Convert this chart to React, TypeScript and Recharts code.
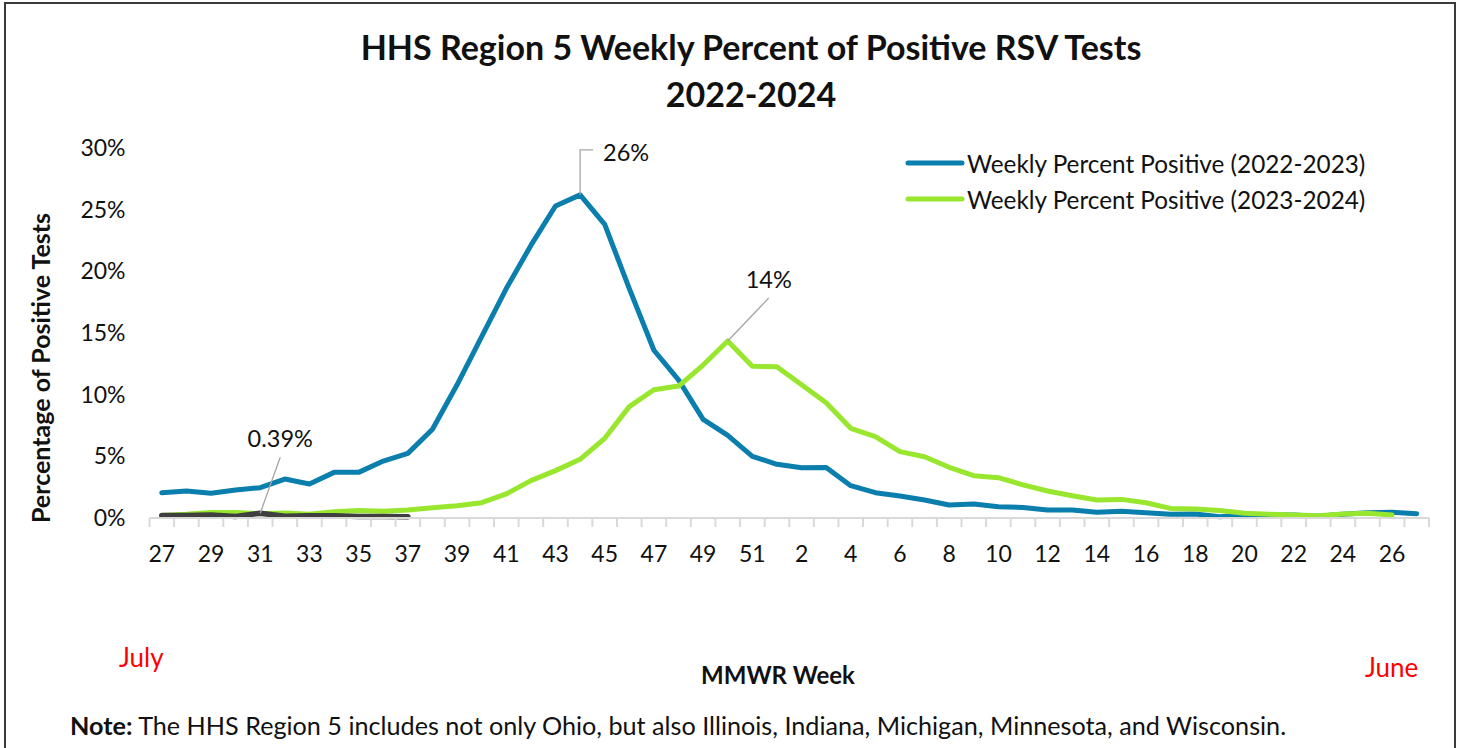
import { LineChart, Line, XAxis, YAxis, Legend } from 'recharts';

// MMWR weeks, July through June
const WEEKS = [
  27, 28, 29, 30, 31, 32, 33, 34, 35, 36, 37, 38, 39, 40, 41, 42, 43, 44, 45, 46, 47, 48, 49, 50, 51,
  1, 2, 3, 4, 5, 6, 7, 8, 9, 10, 11, 12, 13, 14, 15, 16, 17, 18, 19, 20, 21, 22, 23, 24, 25, 26, 27,
];

const SEASON_2022_2023 = [
  2.05, 2.19, 2.0, 2.27, 2.46, 3.16, 2.76, 3.7, 3.7, 4.62, 5.24, 7.2, 10.8, 14.7, 18.6, 22.1, 25.3,
  26.2, 23.8, 18.6, 13.6, 11.2, 8.0, 6.7, 5.0, 4.35, 4.08, 4.1, 2.62, 2.05, 1.78, 1.46, 1.05, 1.14,
  0.92, 0.86, 0.65, 0.65, 0.46, 0.54, 0.43, 0.3, 0.32, 0.11, 0.24, 0.24, 0.24, 0.15, 0.3, 0.43, 0.46,
  0.35,
];

const SEASON_2023_2024 = [
  0.2, 0.3, 0.45, 0.45, 0.35, 0.4, 0.3, 0.5, 0.6, 0.55, 0.65, 0.84, 1.0, 1.24, 1.95, 3.03, 3.84,
  4.76, 6.46, 9.03, 10.4, 10.7, 12.4, 14.35, 12.3, 12.27, 10.8, 9.35, 7.27, 6.6, 5.38, 4.97, 4.11,
  3.43, 3.27, 2.68, 2.19, 1.81, 1.46, 1.51, 1.24, 0.78, 0.73, 0.6, 0.38, 0.3, 0.24, 0.19, 0.32, 0.38,
  0.24,
];

const SEASON_2024_2025 = [0.2, 0.2, 0.25, 0.12, 0.39, 0.15, 0.18, 0.18, 0.12, 0.12, 0.1];

const Y_TICKS = [0, 5, 10, 15, 20, 25, 30];

const BLUE = '#0A7EAC';
const GREEN = '#99E62E';
const DARK = '#3F3F3F';
const LEADER = '#A6A6A6';
const FONT = 'Lato, "Open Sans", sans-serif';

// boundaries get a tick mark, every other week gets a label
const X_TICKS: number[] = [];
for (let i = 0; i <= WEEKS.length; i++) {
  X_TICKS.push(i - 0.5);
  if (i < WEEKS.length && i % 2 === 0) X_TICKS.push(i);
}

function WeekTick({ x, y, payload }: any) {
  const v = payload.value as number;
  if (Math.abs(v % 1) === 0.5) {
    return <line x1={x} x2={x} y1={y} y2={y + 9} stroke="#D9D9D9" strokeWidth={2} />;
  }
  return (
    <text x={x} y={y + 35} textAnchor="middle" dominantBaseline="central" fill="#111" fontSize={23} fontFamily={FONT}>
      {WEEKS[v]}
    </text>
  );
}

function peakLabel(target: number, dx: number, dy: number, elbow: boolean, digits: number) {
  return (props: any) => {
    const { x, y, index, value } = props;
    if (index !== target || x == null || y == null) return null;
    const txt = `${Number(value).toFixed(digits)}%`;
    if (elbow) {
      return (
        <g>
          <polyline points={`${x},${y} ${x},${y + dy} ${x + 13},${y + dy}`} fill="none" stroke={LEADER} strokeWidth={1.3} />
          <text x={x + 23} y={y + dy + 2} dominantBaseline="central" fontSize={23.5} fontFamily={FONT} fill="#111">
            {txt}
          </text>
        </g>
      );
    }
    return (
      <g>
        <line x1={x} y1={y} x2={x + dx} y2={y + dy} stroke={LEADER} strokeWidth={1.3} />
        <text x={x + dx} y={y + dy - 19} textAnchor="middle" dominantBaseline="central" fontSize={23.5} fontFamily={FONT} fill="#111">
          {txt}
        </text>
      </g>
    );
  };
}

function LegendBox({ payload }: any) {
  const items = (payload || []).filter((p: any) => p.dataKey !== 's2425');
  return (
    <div style={{ fontFamily: FONT }}>
      {items.map((p: any) => (
        <div key={p.dataKey} style={{ display: 'flex', alignItems: 'center', height: 36 }}>
          <svg width={60} height={10}>
            <line x1={3} x2={57} y1={5} y2={5} stroke={p.color} strokeWidth={5} strokeLinecap="round" />
          </svg>
          <span style={{ marginLeft: 2, fontSize: 24.3, color: '#111', whiteSpace: 'nowrap' }}>{p.value}</span>
        </div>
      ))}
    </div>
  );
}

export default function App() {
  const data = WEEKS.map((w, i) => ({
    idx: i,
    week: w,
    s2223: SEASON_2022_2023[i] ?? null,
    s2324: SEASON_2023_2024[i] ?? null,
    s2425: SEASON_2024_2025[i] ?? null,
  }));

  return (
    <div style={{ position: 'absolute', left: 0, top: 0, width: 1463, height: 748, overflow: 'hidden', background: '#fff', fontFamily: FONT, color: '#111' }}>
      <div style={{ position: 'absolute', left: 4, top: 2, width: 1448, height: 800, border: '2px solid #3a3a3a' }} />

      <div style={{ position: 'absolute', left: 0, width: 1502, top: 23, textAlign: 'center', fontWeight: 700, fontSize: 34, lineHeight: '47px' }}>
        HHS Region 5 Weekly Percent of Positive RSV Tests
        <br />
        2022-2024
      </div>

      <LineChart
        width={1463}
        height={748}
        data={data}
        margin={{ top: 148, right: 34, bottom: 190, left: 89.5 }}
        style={{ position: 'absolute', left: 0, top: 0 }}
      >
        <XAxis
          dataKey="idx"
          type="number"
          domain={[-0.5, WEEKS.length - 0.5]}
          ticks={X_TICKS}
          interval={0}
          tickLine={false}
          tickSize={0}
          tickMargin={0}
          height={40}
          axisLine={{ stroke: '#D9D9D9', strokeWidth: 2 }}
          tick={(props: any) => <WeekTick {...props} />}
        />
        <YAxis
          type="number"
          domain={[0, 30]}
          ticks={Y_TICKS}
          width={60}
          axisLine={false}
          tickLine={false}
          tickSize={6}
          tickMargin={18}
          tickFormatter={(v) => `${v}%`}
          tick={{ fill: '#111', fontSize: 23, fontFamily: FONT }}
        />
        <Legend
          layout="horizontal"
          verticalAlign="middle"
          align="center"
          wrapperStyle={{ left: 905, top: 145, width: 540, height: 80 }}
          content={<LegendBox />}
        />
        <Line
          type="linear"
          dataKey="s2223"
          name="Weekly Percent Positive (2022-2023)"
          stroke={BLUE}
          strokeWidth={5}
          strokeLinejoin="round"
          strokeLinecap="round"
          dot={false}
          activeDot={false}
          isAnimationActive={false}
          label={peakLabel(17, 0, -45, true, 0)}
        />
        <Line
          type="linear"
          dataKey="s2324"
          name="Weekly Percent Positive (2023-2024)"
          stroke={GREEN}
          strokeWidth={5}
          strokeLinejoin="round"
          strokeLinecap="round"
          dot={false}
          activeDot={false}
          isAnimationActive={false}
          label={peakLabel(23, 41, -43, false, 0)}
        />
        <Line
          type="linear"
          dataKey="s2425"
          name="Weekly Percent Positive (2024-2025)"
          legendType="none"
          stroke={DARK}
          strokeWidth={5.5}
          strokeLinejoin="round"
          strokeLinecap="round"
          dot={false}
          activeDot={false}
          isAnimationActive={false}
          label={peakLabel(4, 20, -56, false, 2)}
        />
      </LineChart>

      <div
        style={{
          position: 'absolute',
          left: 40,
          top: 368,
          transform: 'translate(-50%, -50%) rotate(-90deg)',
          fontWeight: 700,
          fontSize: 25,
          whiteSpace: 'nowrap',
        }}
      >
        Percentage of Positive Tests
      </div>
      <div style={{ position: 'absolute', left: 778, top: 674, transform: 'translate(-50%, -50%)', fontWeight: 700, fontSize: 24, whiteSpace: 'nowrap' }}>
        MMWR Week
      </div>
      <div style={{ position: 'absolute', left: 119, top: 657, transform: 'translateY(-50%)', color: '#FF0000', fontSize: 26 }}>July</div>
      <div style={{ position: 'absolute', left: 1365, top: 667, transform: 'translateY(-50%)', color: '#FF0000', fontSize: 26 }}>June</div>
      <div style={{ position: 'absolute', left: 70, top: 725, transform: 'translateY(-50%)', fontSize: 25.2, whiteSpace: 'nowrap' }}>
        <b>Note:</b> The HHS Region 5 includes not only Ohio, but also Illinois, Indiana, Michigan, Minnesota, and Wisconsin.
      </div>
    </div>
  );
}
